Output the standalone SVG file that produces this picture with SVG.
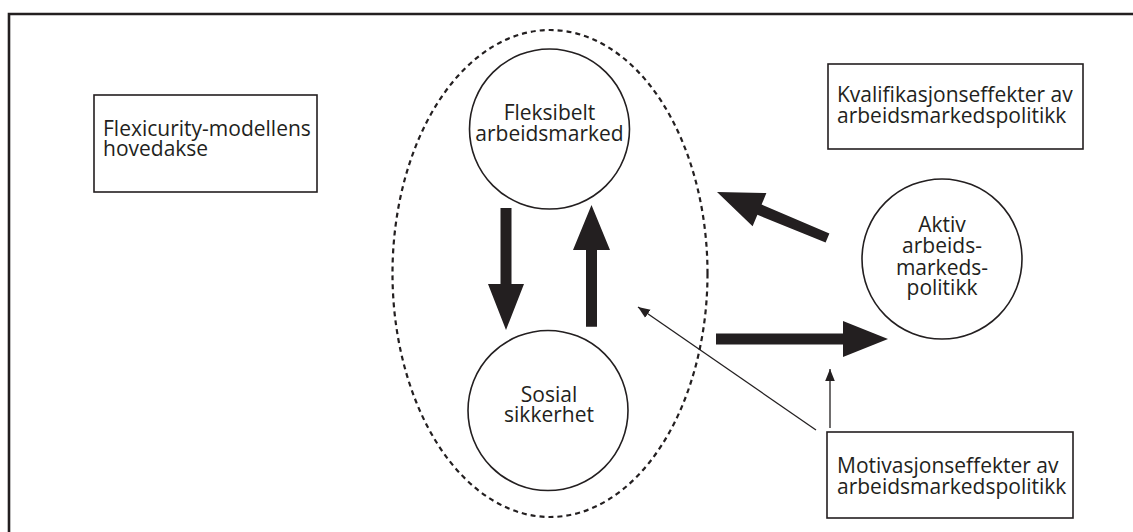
<svg xmlns="http://www.w3.org/2000/svg" width="1133" height="532" viewBox="0 0 1133 532">
<style>
.box{fill:#fff;stroke:#231f20;stroke-width:1.6}
.node{fill:#fff;stroke:#231f20;stroke-width:1.6}
.t{font-family:"Open Sans","Noto Sans",sans-serif;font-size:21px;fill:#231f20}
.c{text-anchor:middle}
.big{fill:#231f20;stroke:none}
.thin{stroke:#231f20;stroke-width:1.3;fill:none;marker-end:url(#ah)}
</style>
<defs>
<marker id="ah" viewBox="0 0 10 10" refX="10" refY="5" markerWidth="12" markerHeight="12" markerUnits="userSpaceOnUse" orient="auto">
<path d="M0,1 L10,5 L0,9 Z" fill="#231f20"/>
</marker>
</defs>
<rect width="1133" height="532" fill="#fff"/>
<g id="frame">
<path d="M9,532 V14 H1133" fill="none" stroke="#231f20" stroke-width="2.6"/>
</g>
<g id="axis-ellipse">
<ellipse cx="550" cy="273.5" rx="157.5" ry="243.5" fill="none" stroke="#231f20" stroke-width="2.2" stroke-dasharray="5,4"/>
</g>
<g id="flexicurity">
<rect class="box" x="94" y="95" width="223" height="97"/>
<text class="t" x="103" y="136">Flexicurity-modellens</text>
<text class="t" x="103" y="156">hovedakse</text>
</g>
<g id="fleksibelt">
<circle class="node" cx="549.5" cy="129" r="80"/>
<text class="t c" x="549.5" y="120">Fleksibelt</text>
<text class="t c" x="549.5" y="141">arbeidsmarked</text>
</g>
<g id="sosial">
<circle class="node" cx="548" cy="410.5" r="80"/>
<text class="t c" x="549" y="402">Sosial</text>
<text class="t c" x="549" y="422">sikkerhet</text>
</g>
<g id="kvalifikasjon">
<rect class="box" x="828" y="64" width="255" height="85"/>
<text class="t" x="837" y="102">Kvalifikasjonseffekter av</text>
<text class="t" x="837" y="123">arbeidsmarkedspolitikk</text>
</g>
<g id="aktiv">
<circle class="node" cx="942" cy="259" r="80"/>
<text class="t c" x="942" y="232">Aktiv</text>
<text class="t c" x="942" y="253">arbeids-</text>
<text class="t c" x="942" y="275">markeds-</text>
<text class="t c" x="942" y="295">politikk</text>
</g>
<g id="motivasjon">
<rect class="box" x="827" y="432" width="246" height="86"/>
<text class="t" x="837" y="473">Motivasjonseffekter av</text>
<text class="t" x="837" y="494">arbeidsmarkedspolitikk</text>
</g>
<g id="connectors">
<polygon class="big" points="500.5,208 511.5,208 511.5,284 524,284 506,330 488,284 500.5,284"/>
<polygon class="big" points="586,326.7 597,326.7 597,250 610,250 591.5,205 573,250 586,250"/>
<polygon class="big" points="716,333.5 843,333.5 843,321 888,339 843,357 843,344.5 716,344.5"/>
<polygon class="big" points="829.4,233.4 761.6,204.6 766.4,193.1 717,192 752.6,226.3 757.4,214.8 825.6,242.6"/>
<line class="thin" x1="816" y1="430" x2="638" y2="307"/>
<line class="thin" x1="830" y1="428" x2="830" y2="369"/>
</g>
</svg>
